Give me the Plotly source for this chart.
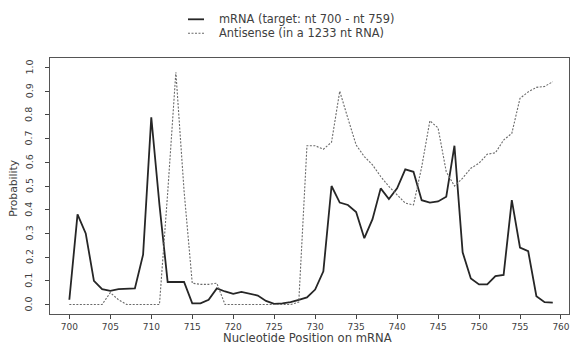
import plotly.graph_objects as go

# Nucleotide positions along the mRNA target region
positions = list(range(700, 760))

# Probability profile for the mRNA target (nt 700 - nt 759)
mrna_prob = [
    0.02, 0.38, 0.30, 0.10, 0.065, 0.058, 0.065, 0.065, 0.068, 0.21,
    0.79, 0.42, 0.095, 0.095, 0.095, 0.005, 0.005, 0.02, 0.068, 0.055,
    0.045, 0.053, 0.045, 0.038, 0.015, 0.003, 0.005, 0.01, 0.02, 0.03,
    0.063, 0.14, 0.50, 0.43, 0.42, 0.39, 0.28, 0.36, 0.49, 0.445,
    0.49, 0.57, 0.56, 0.44, 0.43, 0.435, 0.455, 0.67, 0.22, 0.11,
    0.085, 0.085, 0.12, 0.125, 0.44, 0.24, 0.225, 0.035, 0.01, 0.008,
]

# Probability profile for the antisense strand (in a 1233 nt RNA)
antisense_prob = [
    0.0, 0.0, 0.0, 0.0, 0.0, 0.05, 0.02, 0.0, 0.0, 0.0,
    0.0, 0.0, 0.47, 0.98, 0.48, 0.09, 0.085, 0.085, 0.09, 0.0,
    0.0, 0.0, 0.0, 0.0, 0.0, 0.0, 0.0, 0.0, 0.01, 0.67,
    0.67, 0.655, 0.685, 0.90, 0.785, 0.673, 0.624, 0.589, 0.54, 0.498,
    0.463, 0.428, 0.42, 0.58, 0.775, 0.745, 0.56, 0.50, 0.533, 0.575,
    0.596, 0.634, 0.64, 0.694, 0.722, 0.87, 0.897, 0.916, 0.92, 0.94,
]

series_names = ["mRNA (target: nt 700 - nt 759)", "Antisense (in a 1233 nt RNA)"]

x_ticks = list(range(700, 761, 5))
y_ticks = [i / 10 for i in range(11)]

FONT = "DejaVu Sans"
TEXT = "#404040"
W, H = 572, 345
L, R, T, B = 50, 3, 57.8, 30.5
PW, PH = W - L - R, H - T - B

solid_style = dict(color="#262626", width=1.8)
dash_style = dict(color="#6a6a6a", width=1.1, dash="2px,1.5px")

fig = go.Figure()
fig.add_trace(go.Scatter(x=positions, y=mrna_prob, mode="lines",
                         name=series_names[0], line=solid_style,
                         showlegend=False))
fig.add_trace(go.Scatter(x=positions, y=antisense_prob, mode="lines",
                         name=series_names[1], line=dash_style,
                         showlegend=False))


def px_x(p):
    return (p - L) / PW


def px_y(p):
    return (H - B - p) / PH


# Key above the plot: short line sample followed by the series name
for row_y, name, style in [(19, series_names[0], solid_style),
                           (33, series_names[1], dash_style)]:
    fig.add_shape(type="line", xref="paper", yref="paper",
                  x0=px_x(188), x1=px_x(204), y0=px_y(row_y), y1=px_y(row_y),
                  line=style)
    fig.add_annotation(xref="paper", yref="paper", x=px_x(217), y=px_y(row_y),
                       xanchor="left", yanchor="middle", text=name,
                       showarrow=False,
                       font=dict(size=11.4, color=TEXT, family=FONT))

# Rotated probability labels, set a little further from the frame
for v in y_ticks:
    fig.add_annotation(xref="paper", yref="y", x=px_x(29), y=v,
                       xanchor="center", yanchor="middle", textangle=-90,
                       text=f"{v:.1f}", showarrow=False,
                       font=dict(size=9.5, color=TEXT, family=FONT))

# Axis titles placed as free text around the frame
fig.add_annotation(xref="paper", yref="paper", x=px_x(307), y=px_y(338.5),
                   xanchor="center", yanchor="middle",
                   text="Nucleotide Position on mRNA", showarrow=False,
                   font=dict(size=11.6, color=TEXT, family=FONT))
fig.add_annotation(xref="paper", yref="paper", x=px_x(14), y=px_y(188),
                   xanchor="center", yanchor="middle", textangle=-90,
                   text="Probability", showarrow=False,
                   font=dict(size=10.8, color=TEXT, family=FONT))

fig.update_layout(
    width=W, height=H,
    margin=dict(l=L, r=R, t=T, b=B, autoexpand=False),
    paper_bgcolor="white", plot_bgcolor="white",
    font=dict(family=FONT, color=TEXT),
    showlegend=False,
)

fig.update_xaxes(
    range=[697.64, 760.98], tickvals=x_ticks, tickangle=0,
    ticks="outside", ticklen=4, tickcolor="#444", tickwidth=1,
    showline=True, mirror=True, linecolor="#555", linewidth=1.2,
    showgrid=False, zeroline=False, automargin=False,
    tickfont=dict(size=9, color=TEXT, family=FONT),
)
fig.update_yaxes(
    range=[-0.04, 1.04], tickvals=y_ticks, showticklabels=False,
    ticks="outside", ticklen=4, tickcolor="#444", tickwidth=1,
    automargin=False,
    showline=True, mirror=True, linecolor="#555", linewidth=1.2,
    showgrid=False, zeroline=False,
)

fig.write_html("out.html")
